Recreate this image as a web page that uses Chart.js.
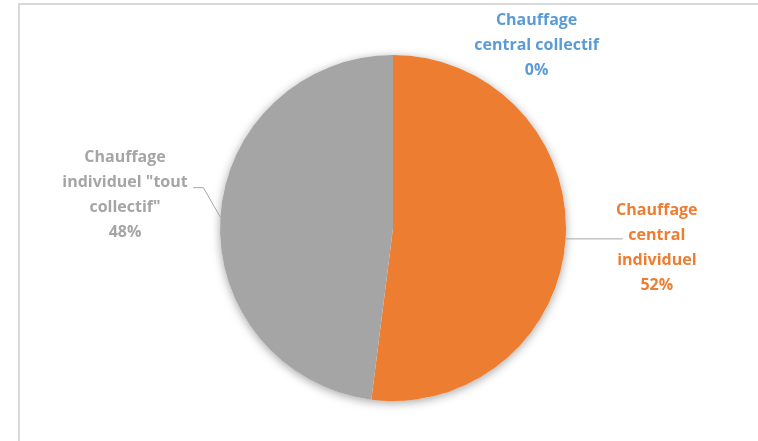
<!DOCTYPE html>
<html>
<head>
<meta charset="utf-8">
<script src="https://cdn.jsdelivr.net/npm/chart.js@4"></script>
<style>
  body { margin: 0; background: #fff; }
  .wrap { position: relative; width: 758px; height: 441px; overflow: hidden; }
  .frame { position: absolute; left: 18px; top: 3px; width: 800px; height: 500px;
           border-left: 2px solid #d9d9d9; border-top: 2px solid #d9d9d9; }
  canvas { position: absolute; left: 0; top: 0; }
</style>
</head>
<body>
<div class="wrap">
  <div class="frame"></div>
  <canvas id="canvas1" width="758" height="441"></canvas>
</div>
<script>
var labels = ['Chauffage central collectif', 'Chauffage central individuel', 'Chauffage individuel "tout collectif"'];
var values = [0, 52, 48];
var colors = ['#5B9BD5', '#ED7D31', '#A5A5A5'];
// lignes de texte des étiquettes
var labelLines = [
	['Chauffage', 'central collectif'],
	['Chauffage', 'central', 'individuel'],
	['Chauffage', 'individuel "tout', 'collectif"']
];

// position des étiquettes, en rayons depuis le centre (dx, dy du centre du bloc)
var labelPos = [
	{ dx: 0.83, dy: -1.058, lead: false },
	{ dx: 1.525, dy: 0.117, lead: true },
	{ dx: -1.549, dy: -0.19, lead: true }
];

var shadowPlugin = {
	id: 'shadow',
	beforeDatasetsDraw: function(chart) {
		var arc = chart.getDatasetMeta(0).data[0];
		var ctx = chart.ctx;
		ctx.save();
		ctx.shadowColor = 'rgba(0,0,0,0.35)';
		ctx.shadowBlur = 10;
		ctx.shadowOffsetY = 2;
		ctx.fillStyle = '#fff';
		ctx.beginPath();
		ctx.arc(arc.x, arc.y, arc.outerRadius, 0, Math.PI * 2);
		ctx.fill();
		ctx.restore();
	}
};

var labelPlugin = {
	id: 'pieLabels',
	afterDatasetsDraw: function(chart) {
		var ctx = chart.ctx;
		var meta = chart.getDatasetMeta(0);
		var total = values.reduce(function(a, b) { return a + b; }, 0);
		ctx.save();
		ctx.font = 'bold 16px "Open Sans"';
		ctx.textAlign = 'center';
		ctx.textBaseline = 'middle';
		meta.data.forEach(function(arc, i) {
			var r = arc.outerRadius;
			var p = labelPos[i];
			var lines = labelLines[i].concat([Math.round(values[i] / total * 100) + '%']);
			var lh = 25;
			var cx = arc.x + p.dx * r;
			var cy = arc.y + p.dy * r;
			var top = cy - (lines.length - 1) * lh / 2;
			ctx.fillStyle = colors[i];
			lines.forEach(function(t, k) {
				ctx.fillText(t, cx, top + k * lh);
			});
			if (p.lead) {
				var mid = (arc.startAngle + arc.endAngle) / 2;
				var ex = arc.x + Math.cos(mid) * r;
				var ey = arc.y + Math.sin(mid) * r;
				ctx.strokeStyle = '#A6A6A6';
				ctx.lineWidth = 1;
				ctx.beginPath();
				ctx.moveTo(ex, ey);
				if (i == 1) {
					ctx.lineTo(cx - 34, ey);
				} else {
					ctx.lineTo(ex - 17, top + lh + 5);
					ctx.lineTo(ex - 27, top + lh + 5);
				}
				ctx.stroke();
			}
		});
		ctx.restore();
	}
};

var ctx_1 = document.getElementById('canvas1').getContext('2d');

var myPieChart = new Chart(ctx_1, {
	type: 'pie',
	data: {
		labels: labels,
		datasets: [{
			data: values,
			backgroundColor: colors,
			borderWidth: 0
		}]
	},
	options: {
		responsive: false,
		animation: false,
		layout: {
			padding: { left: 220, right: 192, top: 55, bottom: 40 }
		},
		plugins: {
			legend: { display: false },
			tooltip: { enabled: false }
		}
	},
	plugins: [shadowPlugin, labelPlugin]
});
</script>
</body>
</html>
